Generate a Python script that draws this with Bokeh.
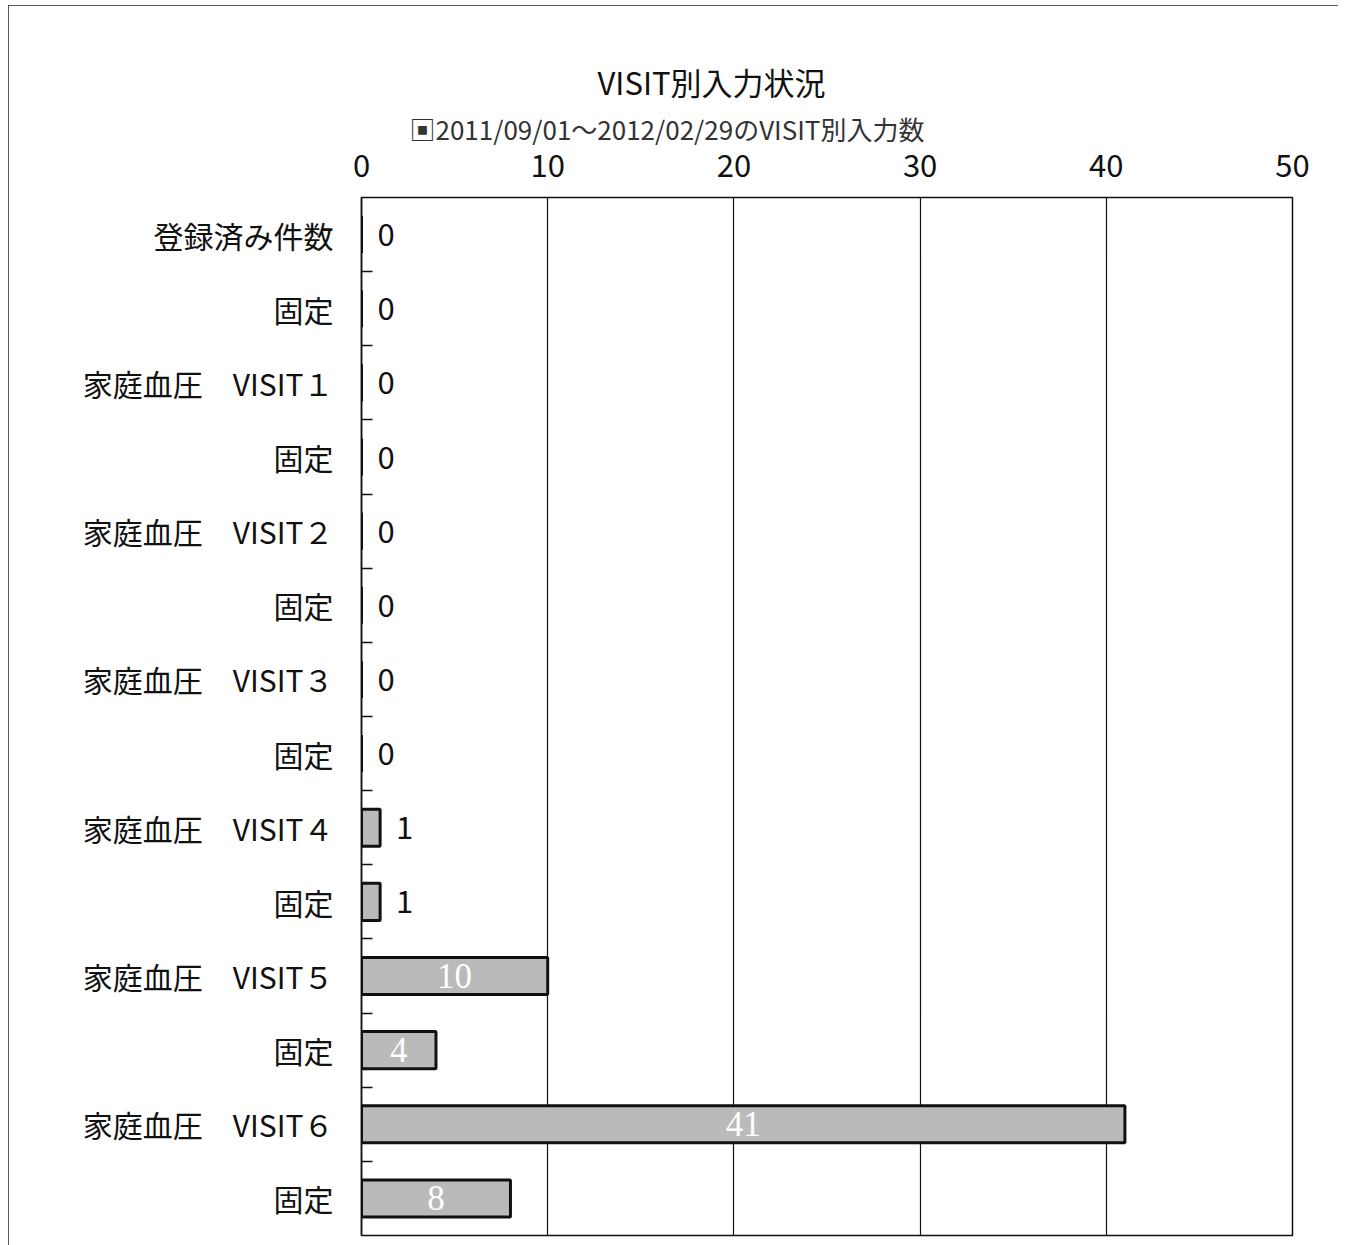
from bokeh.plotting import figure
from bokeh.models import (ColumnDataSource, Range1d, FixedTicker, Title)
from bokeh.core.properties import value
from bokeh.embed import file_html
from bokeh.resources import INLINE

title_text = "VISIT別入力状況"
series_name = "2011/09/01～2012/02/29のVISIT別入力数"
categories = ["登録済み件数", "固定", "家庭血圧　VISIT１", "固定", "家庭血圧　VISIT２", "固定",
              "家庭血圧　VISIT３", "固定", "家庭血圧　VISIT４", "固定", "家庭血圧　VISIT５", "固定",
              "家庭血圧　VISIT６", "固定"]
counts = [0, 0, 0, 0, 0, 0, 0, 0, 1, 1, 10, 4, 41, 8]
x_ticks = [0, 10, 20, 30, 40, 50]

FONT = "Noto Sans CJK JP"
n = len(categories)
pos = list(range(n))

p = figure(width=1330, height=1240, output_backend="svg", toolbar_location=None,
           x_range=Range1d(0, 50), y_range=Range1d(n - 0.5, -0.5),
           x_axis_location="above", min_border_left=353, min_border_right=46,
           min_border_top=192, min_border_bottom=10, margin=(5, 8, 0, 8))
p.stylesheets = [":host { outline: 1.5px solid #222; outline-offset: -1px; }"]

src = ColumnDataSource(dict(y=pos, v=counts))
bars = p.hbar(y="y", right="v", left=0, height=0.5, source=src,
              fill_color="#bababa", line_color="#111111", line_width=3)

# value labels
out_src = ColumnDataSource(dict(x=[v for v in counts if v < 2],
                                y=[i for i, v in zip(pos, counts) if v < 2],
                                t=[str(v) for v in counts if v < 2]))
in_src = ColumnDataSource(dict(x=[v / 2 for v in counts if v >= 2],
                               y=[i for i, v in zip(pos, counts) if v >= 2],
                               t=[str(v) for v in counts if v >= 2]))
p.text(x="x", y="y", text="t", source=out_src, x_offset=16, text_align="left",
       text_baseline="middle", text_font=value(FONT), text_font_size="31px", text_color="#111")
p.text(x="x", y="y", text="t", source=in_src, text_align="center",
       text_baseline="middle", text_font=value("Liberation Serif"), text_font_size="35px",
       text_color="#ffffff")

# axes
xa = p.xaxis[0]
xa.ticker = FixedTicker(ticks=x_ticks)
xa.major_label_text_font = FONT
xa.major_label_text_font_size = "31px"
xa.major_label_text_color = "#111"
xa.major_label_standoff = 15
xa.major_tick_line_color = None
xa.minor_tick_line_color = None
xa.axis_line_color = None

ya = p.yaxis[0]
ya.ticker = FixedTicker(ticks=pos, minor_ticks=[i + 0.5 for i in pos[:-1]])
ya.major_label_overrides = {i: c for i, c in zip(pos, categories)}
ya.major_label_text_font = FONT
ya.major_label_text_font_size = "30px"
ya.major_label_text_color = "#111"
ya.major_label_standoff = 22
ya.major_tick_line_color = None
ya.minor_tick_in = 11
ya.minor_tick_out = 0
ya.minor_tick_line_color = "#111"
ya.minor_tick_line_width = 1.5
ya.axis_line_color = "#111"
ya.axis_line_width = 1.5

p.xgrid.ticker = FixedTicker(ticks=x_ticks[1:-1])
p.xgrid.grid_line_color = "#111"
p.xgrid.grid_line_width = 1.2
p.ygrid.grid_line_color = None
p.outline_line_color = "#111"
p.outline_line_width = 1.5

# series key line and title above the axis
p.add_layout(Title(text="▣" + series_name, align="left", offset=48, text_font=FONT,
                   text_font_size="26px", text_font_style="normal", text_color="#333",
                   standoff=8), "above")
p.add_layout(Title(text=title_text, align="left", offset=236, text_font=FONT,
                   text_font_size="31px", text_font_style="normal", text_color="#111",
                   standoff=0), "above")

open("out.html", "w").write(file_html(p, INLINE))
